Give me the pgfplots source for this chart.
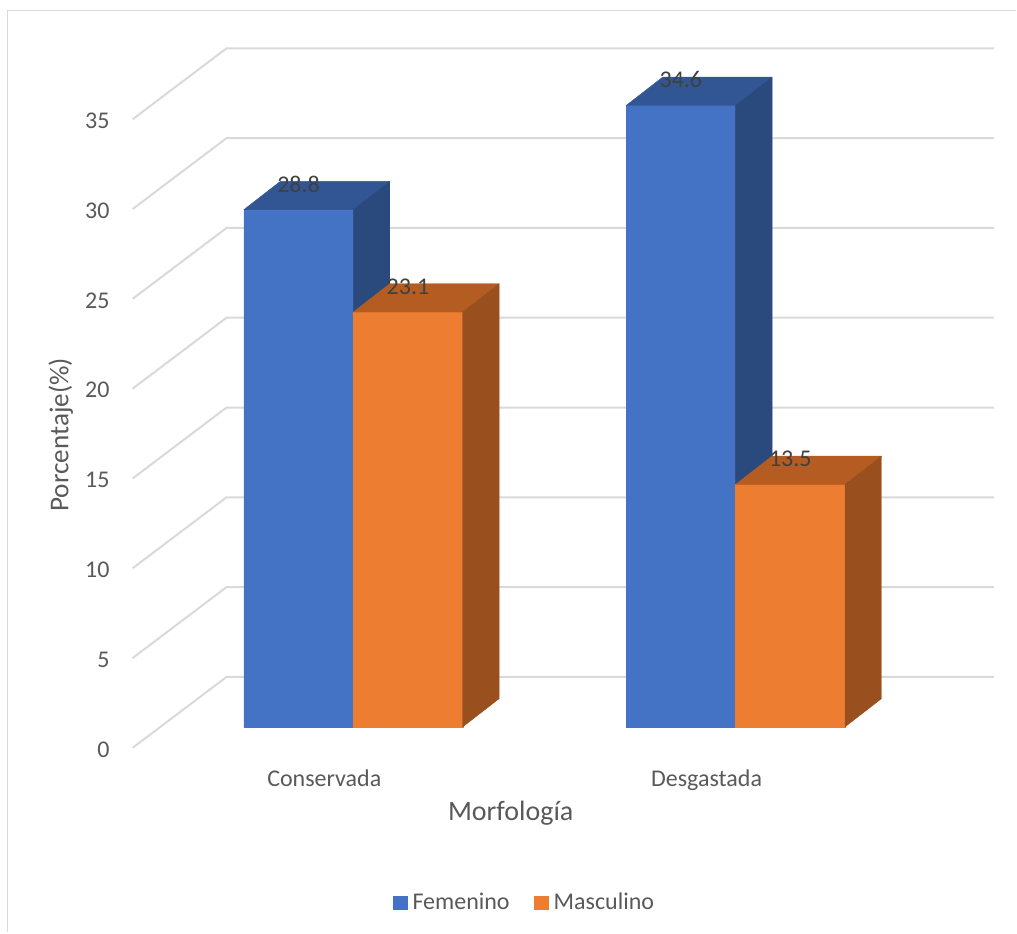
\documentclass[border=0pt]{standalone}
\usepackage{fontspec}
\setmainfont{Carlito}
\usepackage{pgfplots}
\pgfplotsset{compat=1.18}
\usepackage{pgfplotstable}

% colours: front, top and side shades of each series
\definecolor{femfront}{HTML}{4472C4}
\definecolor{femtop}{HTML}{325694}
\definecolor{femside}{HTML}{2A4A7E}
\definecolor{masfront}{HTML}{ED7D31}
\definecolor{mastop}{HTML}{B45C22}
\definecolor{masside}{HTML}{9A501E}
\definecolor{gridgray}{HTML}{D9D9D9}
\definecolor{axistext}{HTML}{595959}
\definecolor{labeltext}{HTML}{404040}

% drawing unit and box geometry
\newlength\px  \setlength\px{0.5pt}
\newlength\yu  \setlength\yu{17.97\px}
\newlength\hw  \setlength\hw{54.75\px}
\newlength\ddx \setlength\ddx{36.5\px}
\newlength\ddy \setlength\ddy{28.3\px}

\newcommand\ticksz{\fontsize{12}{14.4}\selectfont}
\newcommand\titlesz{\fontsize{14}{16.8}\selectfont}
\newcommand\ylabsz{\fontsize{13.6}{16.3}\selectfont}

\pgfdeclareplotmark{nothing}{}

\pgfplotstableread{
cat val
0 28.8
1 34.6
}\femenino
\pgfplotstableread{
cat val
0 23.1
1 13.5
}\masculino

\pgfplotsset{
  front face/.style n args={2}{% #1 colour, #2 centre offset
    ybar, bar width=109.5\px, bar shift=#2,
    fill=#1, draw=#1, line width=0.2pt,
    legend image code/.code={\fill[#1] (0pt,-6.75\px) rectangle (13.5\px,6.75\px);},
  },
  % whole box (front, top and right side) drawn per point, so that
  % each later box correctly covers the side of the one before it
  box faces/.style n args={4}{% #1 front, #2 top, #3 side colour, #4 centre offset
    scatter, only marks, mark=nothing, forget plot, point meta=y,
    visualization depends on={rawy \as \barval},
    scatter/@pre marker code/.code={%
      \pgfmathsetlengthmacro\barh{\barval*\yu}%
      \filldraw[fill=#1, draw=#1, line width=0.2pt]
        ({#4-\hw},0pt) rectangle ({#4+\hw},{-\barh});
      \filldraw[fill=#2, draw=#2, line width=0.2pt, line join=round]
        ({#4-\hw},0pt) -- ({#4+\hw},0pt) -- ({#4+\hw+\ddx},\ddy)
        -- ({#4-\hw+\ddx},\ddy) -- cycle;
      \filldraw[fill=#3, draw=#3, line width=0.2pt, line join=round]
        ({#4+\hw},0pt) -- ({#4+\hw+\ddx},\ddy) -- ({#4+\hw+\ddx},{\ddy-\barh})
        -- ({#4+\hw},{-\barh}) -- cycle;
    },
    scatter/@post marker code/.code={},
  },
  value labels/.style={% #1 centre offset
    only marks, mark=nothing, forget plot, point meta=y,
    nodes near coords={\pgfmathprintnumber[fixed,fixed zerofill,precision=1]{\pgfplotspointmeta}},
    every node near coord/.append style={anchor=center, inner sep=0pt,
      xshift=#1, yshift=25.5\px, font=\ticksz, text=labeltext},
  },
}

\begin{document}
\begin{tikzpicture}
\begin{axis}[
  x=382.5\px, y=\yu,
  xmin=-0.5773, xmax=1.67582, ymin=-1.1686, ymax=37.785,
  clip=false,
  axis line style={draw=none},
  tick style={draw=none},
  major tick length=0pt,
  /pgf/number format/assume math mode=true,
  ytick={0,5,...,35},
  yticklabel style={font=\ticksz, text=axistext, anchor=east, inner sep=0pt,
    xshift=-22.7\px, yshift=-22.5\px},
  xtick={0,1},
  xticklabels={Conservada,Desgastada},
  xticklabel style={font=\ticksz, text=axistext, anchor=base, inner sep=0pt,
    xshift=-29\px, yshift=-38.2\px},
  xlabel={Morfología},
  xlabel style={font=\titlesz, text=axistext, anchor=base, inner sep=0pt,
    at={(axis description cs:0.439,-0.1039)}},
  ylabel={Porcentaje(\%)},
  ylabel style={font=\ylabsz, text=axistext, anchor=base, inner sep=0pt,
    at={(axis description cs:-0.0745,0.4476)}},
  legend cell align=left,
  legend style={at={(axis description cs:0.4540,-0.221)}, anchor=center,
    draw=none, fill=none, legend columns=2, font=\ticksz, text=axistext,
    inner sep=0pt, nodes={inner sep=0pt},
    /tikz/every odd column/.append style={column sep=5.5\px},
    /tikz/every even column/.append style={column sep=24.7\px}},
]
% page extent and chart-area frame
\path (axis cs:-0.92418,40.473) rectangle (axis cs:1.73464,-11.447);
\draw[gridgray, line width=1.2\px]
  (axis cs:1.73464,39.888) -- (axis cs:-0.90458,39.888) -- (axis cs:-0.90458,-11.447);

% back wall and side wall gridlines
\pgfplotsinvokeforeach{0,5,...,35}{%
  \draw[gridgray, line width=2\px]
    (axis cs:-0.5773,{#1-1.1686}) -- (axis cs:-0.3315,{#1+2.7824})
    -- (axis cs:1.67582,{#1+2.7824});
}

\addplot[front face={femfront}{-\hw}] table[x=cat,y=val]{\femenino};
\addlegendentry{Femenino}
\addplot[front face={masfront}{\hw}] table[x=cat,y=val]{\masculino};
\addlegendentry{Masculino}

\addplot[box faces={femfront}{femtop}{femside}{-\hw}] table[x=cat,y=val]{\femenino};
\addplot[box faces={masfront}{mastop}{masside}{\hw}] table[x=cat,y=val]{\masculino};

\addplot[value labels={-\hw}] table[x=cat,y=val]{\femenino};
\addplot[value labels={\hw}] table[x=cat,y=val]{\masculino};
\end{axis}
\end{tikzpicture}
\end{document}
